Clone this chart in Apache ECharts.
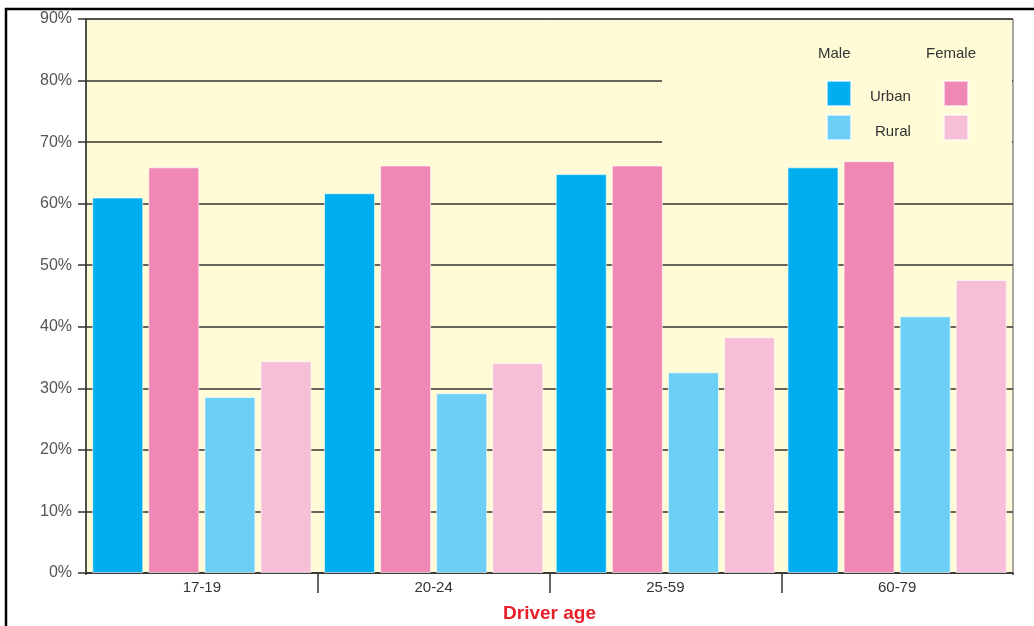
<!DOCTYPE html>
<html>
<head>
<meta charset="utf-8">
<script src="https://cdn.jsdelivr.net/npm/echarts@6/dist/echarts.min.js"></script>
<style>
html,body{margin:0;padding:0;background:#fff;}
#c{width:1034px;height:626px;}
</style>
</head>
<body>
<div id="c"></div>
<script>
var categories = ['17-19', '20-24', '25-59', '60-79'];
var maleUrban = [61.0, 61.7, 64.8, 65.9];
var femaleUrban = [65.9, 66.2, 66.2, 66.9];
var maleRural = [28.6, 29.2, 32.6, 41.7];
var femaleRural = [34.4, 34.1, 38.3, 47.6];
var seriesNames = ['Male Urban', 'Female Urban', 'Male Rural', 'Female Rural'];
var colors = ['#00AEEF', '#F088B6', '#6DCFF6', '#F7BED8'];
var yTicks = [0, 10, 20, 30, 40, 50, 60, 70, 80, 90];

var chart = echarts.init(document.getElementById('c'));
var font = '"Liberation Sans", Arial, sans-serif';
var values = [maleUrban, femaleUrban, maleRural, femaleRural];

var legendPos = [
  {left: 826, top: 80},
  {left: 943, top: 80},
  {left: 826, top: 114},
  {left: 943, top: 114}
];

var option = {
  animation: false,
  grid: {
    left: 86, right: 21, top: 19, bottom: 53,
    outerBoundsMode: 'none',
    containLabel: false,
    show: true, backgroundColor: '#FFFBD7',
    borderColor: '#555', borderWidth: 1
  },
  legend: seriesNames.map(function (n, i) {
    return {
      data: [n], left: legendPos[i].left, top: legendPos[i].top,
      itemWidth: 24, itemHeight: 25, icon: 'rect',
      formatter: function () { return ''; },
      padding: 0, itemGap: 0, selectedMode: false
    };
  }),
  xAxis: {
    type: 'category',
    data: categories,
    axisLine: {lineStyle: {color: '#333', width: 1.5}},
    axisTick: {show: true, length: 20, lineStyle: {color: '#333', width: 1.5}},
    axisLabel: {color: '#333', fontFamily: font, fontSize: 15, margin: 7},
    name: 'Driver age',
    nameLocation: 'middle',
    nameGap: 31,
    nameTextStyle: {color: '#E8202A', fontFamily: font, fontSize: 19, fontWeight: 'bold'}
  },
  yAxis: {
    type: 'value',
    min: 0, max: 90, interval: 10,
    axisLine: {show: true, lineStyle: {color: '#333', width: 1.5}},
    axisTick: {show: true, length: 8, lineStyle: {color: '#333', width: 1.5}},
    axisLabel: {color: '#555', fontFamily: font, fontSize: 16, margin: 14,
      formatter: function (v) { return yTicks.indexOf(v) >= 0 ? v + '%' : ''; }},
    splitLine: {show: true, lineStyle: {color: '#333', width: 1.5}}
  },
  series: seriesNames.map(function (n, i) {
    return {
      name: n, type: 'bar', data: values[i],
      barWidth: 51, barGap: '10%',
      itemStyle: {color: colors[i], borderColor: 'rgba(255,255,255,0.6)', borderWidth: 1},
      z: 3
    };
  }),
  graphic: [
    {type: 'rect', shape: {x: 662, y: 21, width: 350, height: 128}, style: {fill: '#FFFBD7'}, z: 1, silent: true},
    {type: 'rect', shape: {x: 82, y: 575, width: 8, height: 24}, style: {fill: '#fff'}, z: 100, silent: true},
    {type: 'rect', shape: {x: 1010, y: 575, width: 8, height: 24}, style: {fill: '#fff'}, z: 100, silent: true},
    {type: 'rect', shape: {x: 6, y: 9, width: 1060, height: 700}, style: {fill: 'none', stroke: '#000', lineWidth: 2.5}, z: 100, silent: true},
    {type: 'text', left: 818, top: 46, style: {text: 'Male', font: '15px ' + font, fill: '#333'}, z: 100},
    {type: 'text', left: 926, top: 46, style: {text: 'Female', font: '15px ' + font, fill: '#333'}, z: 100},
    {type: 'text', left: 870, top: 89, style: {text: 'Urban', font: '15px ' + font, fill: '#333'}, z: 100},
    {type: 'text', left: 875, top: 124, style: {text: 'Rural', font: '15px ' + font, fill: '#333'}, z: 100}
  ]
};
chart.setOption(option);
</script>
</body>
</html>
